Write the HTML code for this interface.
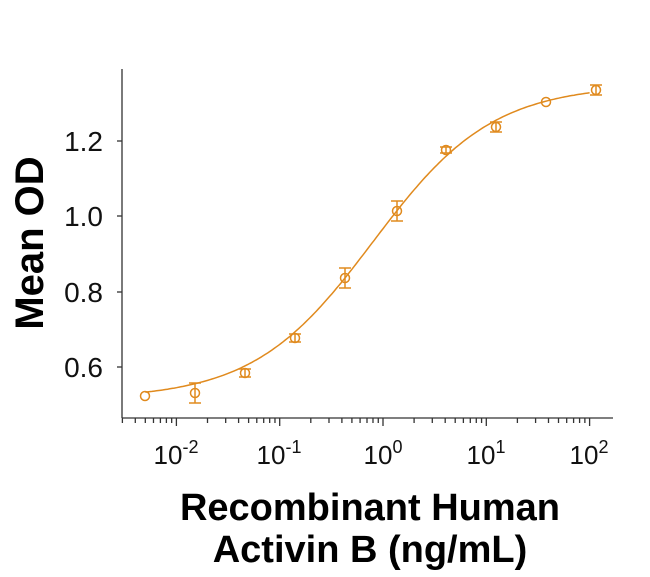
<!DOCTYPE html>
<html><head><meta charset="utf-8"><style>body{margin:0;background:#fff}svg{display:block}</style></head><body>
<svg id="s" width="650" height="577" xmlns="http://www.w3.org/2000/svg" font-family="Liberation Sans, sans-serif">
<g stroke="#333" stroke-width="1.3" fill="none">
<line x1="122" y1="69" x2="122" y2="418"/>
<line x1="122" y1="418" x2="613" y2="418"/>
<line x1="117" y1="141" x2="122" y2="141"/>
<line x1="117" y1="216" x2="122" y2="216"/>
<line x1="117" y1="292" x2="122" y2="292"/>
<line x1="117" y1="367" x2="122" y2="367"/>
<g id="xt"></g>
</g>
<g font-size="28" fill="#111" text-anchor="end">
<text x="103" y="151">1.2</text>
<text x="103" y="226">1.0</text>
<text x="103" y="302">0.8</text>
<text x="103" y="377">0.6</text>
</g>
<g font-size="26" fill="#111" text-anchor="middle">
<text x="176" y="464">10<tspan font-size="18" dy="-11">-2</tspan></text>
<text x="279" y="464">10<tspan font-size="18" dy="-11">-1</tspan></text>
<text x="383" y="464">10<tspan font-size="18" dy="-11">0</tspan></text>
<text x="486" y="464">10<tspan font-size="18" dy="-11">1</tspan></text>
<text x="589" y="464">10<tspan font-size="18" dy="-11">2</tspan></text>
</g>
<text x="370" y="520" font-size="38" font-weight="bold" text-anchor="middle">Recombinant Human</text>
<text x="370" y="562" font-size="38" font-weight="bold" text-anchor="middle">Activin B (ng/mL)</text>
<text transform="translate(43,243) rotate(-90)" font-size="40" font-weight="bold" text-anchor="middle">Mean OD</text>
<path id="c" fill="none" stroke="#E08A1E" stroke-width="1.5"/>
<g id="p" fill="none" stroke="#E08A1E" stroke-width="1.5"></g>
</svg>
<script>
var ns="http://www.w3.org/2000/svg";
function X(c){return 383+103.3*Math.log10(c);}
function Y(v){return 367-(v-0.6)*376.5;}
var xt=document.getElementById("xt"),h="";
for(var e=-3;e<=2;e++)for(var m=1;m<=9;m++){var x=X(m*Math.pow(10,e));if(x<122||x>613)continue;h+='<line x1="'+x+'" y1="418" x2="'+x+'" y2="'+(m==1?426:423)+'"/>';}
xt.innerHTML=h;
var d="";
for(var i=0;i<=200;i++){var lc=-2.3+i*4.3/200,c=Math.pow(10,lc);var v=0.515+0.835/(1+Math.pow(0.8/c,0.75));d+=(i?"L":"M")+X(c).toFixed(1)+" "+Y(v).toFixed(1);}
document.getElementById("c").setAttribute("d",d);
var pts=[[145,396,0],[195,393,10],[245,373,4],[295,338,4],[345,278,10],[397,211,10],[446,150,3],[496,127,5],[546,102,2],[596,90,5]];
var g="";
pts.forEach(function(p){g+='<circle cx="'+p[0]+'" cy="'+p[1]+'" r="4.5"/>';if(p[2]>2){g+='<line x1="'+p[0]+'" y1="'+(p[1]-p[2])+'" x2="'+p[0]+'" y2="'+(p[1]+p[2])+'"/><line x1="'+(p[0]-6)+'" y1="'+(p[1]-p[2])+'" x2="'+(p[0]+6)+'" y2="'+(p[1]-p[2])+'"/><line x1="'+(p[0]-6)+'" y1="'+(p[1]+p[2])+'" x2="'+(p[0]+6)+'" y2="'+(p[1]+p[2])+'"/>';}});
document.getElementById("p").innerHTML=g;
</script>
</body></html>
